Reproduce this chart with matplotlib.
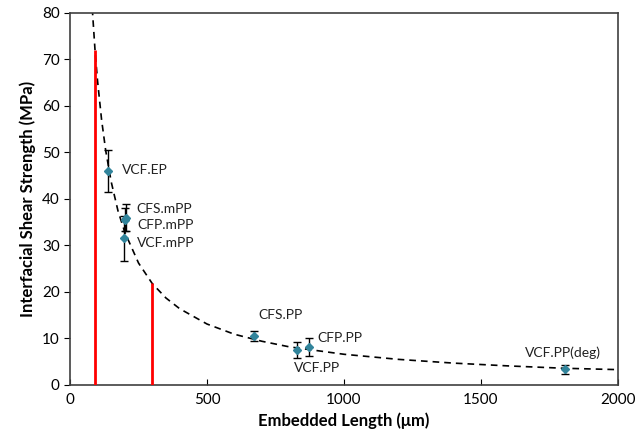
import matplotlib
matplotlib.use('Agg')
import matplotlib.pyplot as plt

# measured points (embedded length in um, IFSS in MPa, error)
labels = ['VCF.EP', 'CFS.mPP', 'CFP.mPP', 'VCF.mPP', 'CFS.PP', 'VCF.PP', 'CFP.PP', 'VCF.PP(deg)']
length = [137, 205, 199, 197, 673, 827, 871, 1807]
ifss = [46.0, 36.0, 35.5, 31.5, 10.5, 7.5, 8.1, 3.4]
err = [4.5, 3.0, 2.5, 4.8, 1.0, 1.8, 1.9, 1.0]

# label offsets in points (position only)
label_offsets = [(10, 1), (7, 6), (9, -4), (9, -3), (3, 15), (-2, -13), (6, 7), (-29, 12)]

# dashed trend curve
curve_x = [81, 91, 100, 115, 130, 150, 175, 200, 250, 300, 350, 400, 500, 600, 700,
           800, 1000, 1200, 1400, 1600, 1800, 2000]
curve_y = [80.9, 72.0, 65.5, 57.0, 50.4, 43.7, 37.4, 32.8, 26.2, 21.8, 18.7, 16.4, 13.1,
           10.9, 9.4, 8.2, 6.6, 5.5, 4.7, 4.1, 3.6, 3.3]

# red marker lines: x position and height
red_x = [91, 300]
red_top = [72, 22]

plt.rcParams['font.family'] = ['Lato', 'DejaVu Sans']

fig = plt.figure(figsize=(6.43, 4.42), dpi=100)
ax = fig.add_axes([0.109, 0.129, 0.852, 0.842])

ax.plot(curve_x, curve_y, 'k--', lw=1.2, dashes=(4, 3), zorder=2)
ax.vlines(red_x, 0, red_top, color='#FF0000', lw=2, zorder=3)
ax.errorbar(length, ifss, yerr=err, fmt='D', color='#31849B', ms=4,
            ecolor='black', elinewidth=1, capsize=3, capthick=1, zorder=4)

for lab, x, y, off in zip(labels, length, ifss, label_offsets):
    ax.annotate(lab, (x, y), xytext=off, textcoords='offset points',
                fontsize=10, va='center', ha='left', color='#222222')

ax.set_xlim(0, 2000)
ax.set_ylim(0, 80)
ax.set_xticks([0, 500, 1000, 1500, 2000])
ax.set_yticks(range(0, 81, 10))
ax.tick_params(axis='x', direction='in', length=4, labelsize=11, pad=6)
ax.tick_params(axis='y', direction='out', length=4, labelsize=11)
for s in ax.spines.values():
    s.set_linewidth(1.2)
    s.set_color('#404040')

ax.set_xlabel('Embedded Length (\u03bcm)', fontsize=12, fontweight='bold')
ax.set_ylabel('Interfacial Shear Strength (MPa)', fontsize=12, fontweight='bold')

fig.savefig('out.png', dpi=100)
